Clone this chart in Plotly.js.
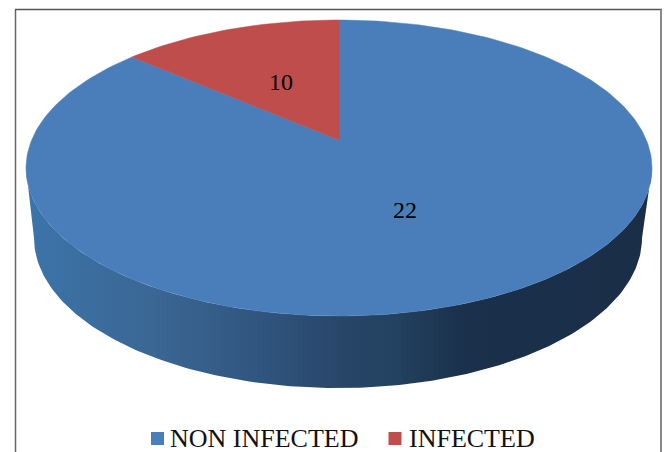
<!DOCTYPE html>
<html>
<head>
<meta charset="utf-8">
<script src="https://cdn.plot.ly/plotly-3.0.1.min.js"></script>
<style>html,body{margin:0;padding:0;background:#fff}#chart{width:666px;height:452px}</style>
</head>
<body>
<div id="chart"></div>
<script>
// Data
const categories = ["NON INFECTED", "INFECTED"];
const printedValues = [22, 10];
// The drawn slices do not follow the printed numbers: shares
const drawnShares = [0.885, 0.115];
const sliceColors = ["#4a7ebb", "#be4d4b"];

// Geometry of the tilted disc, in page pixels (axes are mapped 1:1)
const top_ = {cx: 339, cy: 168, rx: 313, ry: 148};
const bottom_ = {cx: 338, cy: 238, rx: 304, ry: 150};
const apex = {x: 339, y: 140};
const STEP = 1; // degrees per outline point

function pt(e, deg) {
  const a = deg * Math.PI / 180;
  return {x: e.cx + e.rx * Math.sin(a), y: e.cy - e.ry * Math.cos(a)};
}

const traces = [];

// Side wall: front half of the disc, shaded left to right
const wx = [], wy = [];
for (let d = 90; d <= 270; d += STEP) { const p = pt(top_, d); wx.push(p.x); wy.push(p.y); }
for (let d = 270; d >= 90; d -= STEP) { const p = pt(bottom_, d); wx.push(p.x); wy.push(p.y); }
wx.push(wx[0]); wy.push(wy[0]);
traces.push({
  x: wx, y: wy, mode: "lines", line: {width: 0}, fill: "toself",
  fillgradient: {
    type: "horizontal",
    colorscale: [
      [0, "#3c74a9"], [0.1, "#3b6d9f"], [0.2, "#3a6794"], [0.3, "#355d88"],
      [0.42, "#2d5078"], [0.5, "#284668"], [0.6, "#22405f"], [0.7, "#1a304b"], [1, "#1a2e47"]
    ]
  },
  hoverinfo: "skip", showlegend: false
});

// Top face: one slice per share, clockwise from the top
let startDeg = 0;
drawnShares.forEach(function (s, i) {
  const from = startDeg;
  const to = from + 360 * s;
  startDeg = to;
  const xs = [apex.x], ys = [apex.y];
  const n = Math.ceil((to - from) / STEP);
  for (let k = 0; k <= n; k++) {
    const p = pt(top_, from + (to - from) * k / n);
    xs.push(p.x); ys.push(p.y);
  }
  xs.push(apex.x); ys.push(apex.y);
  traces.push({
    x: xs, y: ys, mode: "lines", line: {width: 0.5, color: sliceColors[i]},
    fill: "toself", fillcolor: sliceColors[i], name: categories[i],
    hoverinfo: "name", showlegend: false
  });
});

// Legend squares
const legendSquareX = [157.5, 395];
const legendY = 438.5;
traces.push({
  x: legendSquareX, y: legendSquareX.map(function () { return legendY; }),
  mode: "markers",
  marker: {symbol: "square", size: 13, color: sliceColors, line: {width: 0}},
  hoverinfo: "skip", showlegend: false
});

const serif = "Liberation Serif, Times New Roman, serif";
const valueLabelPos = [[405, 210], [281, 82]];
const legendTextX = [169, 408];
const annotations = [];
printedValues.forEach(function (v, i) {
  annotations.push({
    x: valueLabelPos[i][0], y: valueLabelPos[i][1], text: String(v), showarrow: false,
    xanchor: "center", yanchor: "middle", font: {family: serif, size: 24, color: "#000"}
  });
});
categories.forEach(function (c, i) {
  annotations.push({
    x: legendTextX[i], y: 438, text: c, showarrow: false,
    xanchor: "left", yanchor: "middle", xshift: -1.5,
    font: {family: serif, size: 26, color: "#111"}
  });
});

const hiddenAxis = {visible: false, fixedrange: true, showgrid: false, zeroline: false};
const layout = {
  width: 666, height: 452,
  margin: {l: 0, r: 0, t: 0, b: 0},
  paper_bgcolor: "#fff", plot_bgcolor: "#fff",
  showlegend: false,
  xaxis: Object.assign({range: [0, 666]}, hiddenAxis),
  yaxis: Object.assign({range: [452, 0]}, hiddenAxis),
  annotations: annotations,
  shapes: [
    {type: "line", x0: 15.5, x1: 15.5, y0: 9.5, y1: 452, line: {color: "#666", width: 1.5}},
    {type: "line", x0: 15, x1: 662, y0: 9.5, y1: 9.5, line: {color: "#555", width: 1.5}},
    {type: "line", x0: 661, x1: 661, y0: 9.5, y1: 452, line: {color: "#888", width: 2}}
  ]
};
Plotly.newPlot("chart", traces, layout, {displayModeBar: false, responsive: false});
</script>
</body>
</html>
